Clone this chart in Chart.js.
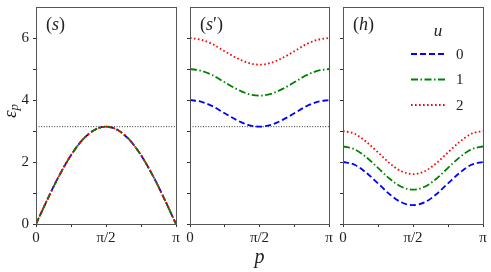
<!DOCTYPE html>
<html>
<head>
<meta charset="utf-8">
<script src="https://cdn.jsdelivr.net/npm/chart.js@4"></script>
<style>
 html,body{margin:0;padding:0;background:#fff;}
 #wrap{position:relative;width:491px;height:272px;overflow:hidden;}
 canvas{position:absolute;top:0;}
</style>
</head>
<body>
<div id="wrap">
 <canvas id="c1" width="180" height="272" style="left:0px"></canvas>
 <canvas id="c2" width="156" height="272" style="left:180px"></canvas>
 <canvas id="c3" width="155" height="272" style="left:336px"></canvas>
</div>
<script>
// momentum grid, 0..pi in steps of pi/12
const pGrid=[0,1,2,3,4,5,6,7,8,9,10,11,12].map(k=>k*Math.PI/12);
const uLabels=["0","1","2"];
const xTickValues=[0,Math.PI/4,Math.PI/2,3*Math.PI/4,Math.PI];
const xTickLabels=["0","","π/2","","π"];
const yTickValues=[0,1,2,3,4,5,6];
const yTickLabels=["0","","2","","4","","6"];
const piLevel=[3.14,3.14];
const piLevelX=[0,Math.PI];

// (s) all three u overlap
const sU0=[0,0.81,1.57,2.22,2.72,3.03,3.14,3.03,2.72,2.22,1.57,0.81,0];
const sU1=[0,0.81,1.57,2.22,2.72,3.03,3.14,3.03,2.72,2.22,1.57,0.81,0];
const sU2=[0,0.81,1.57,2.22,2.72,3.03,3.14,3.03,2.72,2.22,1.57,0.81,0];
// (s')
const spU0=[4.00,3.94,3.79,3.57,3.36,3.20,3.14,3.20,3.36,3.57,3.79,3.94,4.00];
const spU1=[5.00,4.94,4.79,4.57,4.36,4.20,4.14,4.20,4.36,4.57,4.79,4.94,5.00];
const spU2=[6.00,5.94,5.79,5.57,5.36,5.20,5.14,5.20,5.36,5.57,5.79,5.94,6.00];
// (h)
const hU0=[2.00,1.91,1.65,1.31,0.96,0.70,0.61,0.70,0.96,1.31,1.65,1.91,2.00];
const hU1=[2.50,2.41,2.15,1.81,1.46,1.20,1.11,1.20,1.46,1.81,2.15,2.41,2.50];
const hU2=[3.00,2.91,2.65,2.31,1.96,1.70,1.61,1.70,1.96,2.31,2.65,2.91,3.00];

const styles=[
 {color:"#0000ff",dash:[6,3]},
 {color:"#008000",dash:[7,2.5,1.5,2.5]},
 {color:"#ff0000",dash:[1.6,2.4]}
];
const SERIF="'Liberation Serif', 'DejaVu Serif', serif";

function pts(ys,xs){return ys.map((y,i)=>({x:(xs||pGrid)[i],y:y}));}

function curveSets(series){
 // red on top, blue at bottom like the original
 return series.map((ys,i)=>({
  data:pts(ys),
  borderColor:styles[i].color,
  borderDash:styles[i].dash,
  borderWidth:1.8,
  pointRadius:0,
  fill:false,
  cubicInterpolationMode:"monotone",
  order:3-i
 }));
}

function piSet(){
 return {data:pts(piLevel,piLevelX),borderColor:"#333",borderDash:[1,1.6],borderWidth:1,pointRadius:0,order:5};
}

function drawMixed(ctx,x,y,parts,size){
 ctx.textBaseline="middle";
 ctx.textAlign="left";
 parts.forEach(p=>{
  ctx.font=(p[1]?"italic ":"")+size+"px "+SERIF;
  ctx.fillText(p[0],x,y);
  x+=ctx.measureText(p[0]).width;
 });
}

function panelPlugin(label,extra){
 return {
  id:"panel",
  afterDraw(chart){
   const ctx=chart.ctx,a=chart.chartArea;
   ctx.save();
   ctx.strokeStyle="#555";
   ctx.lineWidth=1;
   ctx.setLineDash([]);
   ctx.strokeRect(Math.round(a.left)+0.5,Math.round(a.top)+0.5,Math.round(a.right-a.left),Math.round(a.bottom-a.top));
   ctx.fillStyle="#222";
   drawMixed(ctx,a.left+10,a.top+18,label,18);
   if(extra) extra(ctx,a);
   ctx.restore();
  }
 };
}

function yLabel(ctx,a){
 ctx.save();
 ctx.translate(11,110);
 ctx.rotate(-Math.PI/2);
 ctx.fillStyle="#222";
 ctx.textBaseline="middle";
 ctx.textAlign="left";
 ctx.font="italic 19px "+SERIF;
 ctx.fillText("ε",-8,0);
 let w=ctx.measureText("ε").width;
 ctx.font="italic 13px "+SERIF;
 ctx.fillText("p",-8+w,4);
 ctx.restore();
}

function legend(ctx,a){
 ctx.fillStyle="#222";
 ctx.textBaseline="middle";
 ctx.textAlign="center";
 ctx.font="italic 17px "+SERIF;
 ctx.fillText("u",a.right-45,a.top+25);
 uLabels.forEach((lab,i)=>{
  let y=a.top+47+i*25.5;
  ctx.strokeStyle=styles[i].color;
  ctx.lineWidth=1.8;
  ctx.setLineDash(styles[i].dash);
  ctx.beginPath();
  ctx.moveTo(a.right-72,y);
  ctx.lineTo(a.right-38,y);
  ctx.stroke();
  ctx.setLineDash([]);
  ctx.font="15px "+SERIF;
  ctx.textAlign="left";
  ctx.fillText(lab,a.right-27,y+1);
 });
}

function noPad(s){s.paddingTop=0;s.paddingBottom=0;s.paddingLeft=0;s.paddingRight=0;}

function scales(yWidth,showY,xTitle){
 return {
  x:{
   type:"linear",min:0,max:Math.PI,
   afterBuildTicks(s){s.ticks=xTickValues.map(v=>({value:v}));},
   afterFit(s){s.height=48;noPad(s);},
   border:{display:false},
   grid:{drawOnChartArea:false,drawTicks:true,tickLength:3,tickColor:"#333"},
   ticks:{padding:2,color:"#222",font:{family:SERIF,size:15},maxRotation:0,autoSkip:false,
    callback:(v,i)=>xTickLabels[i]},
   title:{display:!!xTitle,text:"p",color:"#222",font:{family:SERIF,size:20,style:"italic"},padding:{top:0,bottom:2}}
  },
  y:{
   type:"linear",min:0,max:7,
   afterBuildTicks(s){s.ticks=yTickValues.map(v=>({value:v}));},
   afterFit(s){s.width=yWidth;noPad(s);},
   border:{display:false},
   grid:{drawOnChartArea:false,drawTicks:true,tickLength:3,tickColor:"#333"},
   ticks:{display:showY,padding:4,color:"#222",font:{family:SERIF,size:15},autoSkip:false,
    callback:(v,i)=>yTickLabels[i]}
  }
 };
}

function make(id,datasets,yWidth,padRight,showY,xTitle,plugin){
 new Chart(document.getElementById(id),{
  type:"line",
  data:{datasets:datasets},
  options:{
   responsive:false,animation:false,devicePixelRatio:1,
   layout:{padding:{top:7,right:padRight,bottom:0,left:0}},
   plugins:{legend:{display:false},tooltip:{enabled:false}},
   scales:scales(yWidth,showY,xTitle)
  },
  plugins:[plugin]
 });
}

make("c1",[piSet()].concat(curveSets([sU0,sU1,sU2])),36,4,true,false,
 panelPlugin([["(",false],["s",true],[")",false]],yLabel));
make("c2",[piSet()].concat(curveSets([spU0,spU1,spU2])),10,7,false,true,
 panelPlugin([["(",false],["s",true],["′",false],[")",false]]));
make("c3",curveSets([hU0,hU1,hU2]),7,8,false,false,
 panelPlugin([["(",false],["h",true],[")",false]],legend));
</script>
</body>
</html>
